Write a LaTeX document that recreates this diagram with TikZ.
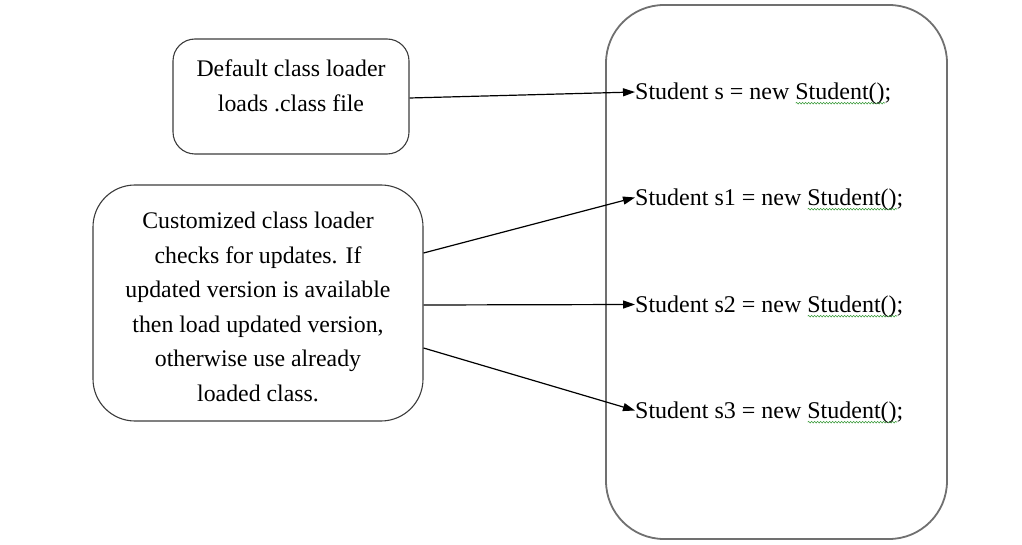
\documentclass[tikz,border=0pt]{standalone}
\usepackage{fontspec}
\setmainfont{Liberation Serif}
\usetikzlibrary{arrows.meta,decorations.pathmorphing}
\definecolor{boxgray}{HTML}{3C3C3C}
\definecolor{biggray}{HTML}{707070}
\definecolor{wavegreen}{HTML}{3A9A3A}
\newcommand\spellwave[1]{\setbox0\hbox{#1}\rlap{\raisebox{-5pt}{\tikz\draw[wavegreen,line width=0.6pt,decorate,decoration={snake,amplitude=0.8pt,segment length=3pt}] (0pt,0pt)--(\wd0,0pt);}}\box0}
\begin{document}
\begin{tikzpicture}[x=1pt,y=-1pt,
  rbox/.style={draw=boxgray,line width=1.1pt,fill=none,inner sep=0pt},
  txt/.style={font=\fontsize{23.8}{34.5}\selectfont,align=center,inner sep=0pt},
  stmt/.style={font=\fontsize{24}{34.5}\selectfont,anchor=west,inner sep=0pt},
  conn/.style={line width=1.2pt,-{Triangle[length=12pt,width=8pt]}}]
\useasboundingbox (0,0) rectangle (1022,545);
% boxes
\node[rbox,minimum width=236pt,minimum height=115pt,rounded corners=22pt] (def) at (291,96.5) {};
\node[rbox,minimum width=330pt,minimum height=236pt,rounded corners=42pt] (cust) at (258,303) {};
\node[draw=biggray,line width=1.8pt,inner sep=0pt,minimum width=341pt,minimum height=534pt,rounded corners=58pt] (prog) at (776.5,272) {};
% texts
\node[txt] (deftext) at (291,86) {Default class loader\\loads .class file};
\node[txt] (custtext) at (258,307) {Customized class loader\\checks for updates. If\\updated version is available\\then load updated version,\\otherwise use already\\loaded class.};
\node[stmt] (s0) at (635,93.5) {Student s = new \spellwave{Student()};};
\node[stmt] (s1) at (635,199.5) {Student s1 = new \spellwave{Student()};};
\node[stmt] (s2) at (635,306.5) {Student s2 = new \spellwave{Student()};};
\node[stmt] (s3) at (635,412.5) {Student s3 = new \spellwave{Student()};};
% connectors
\draw[conn] ([yshift=-1.5pt]def.east) -- ([yshift=1.5pt]s0.west);
\draw[conn] ([yshift=50pt]cust.east) -- ([yshift=2pt]s1.west);
\draw[conn] ([yshift=-2pt]cust.east) -- ([yshift=2pt]s2.west);
\draw[conn] ([yshift=-45pt]cust.east) -- ([yshift=2pt]s3.west);
\end{tikzpicture}
\end{document}
